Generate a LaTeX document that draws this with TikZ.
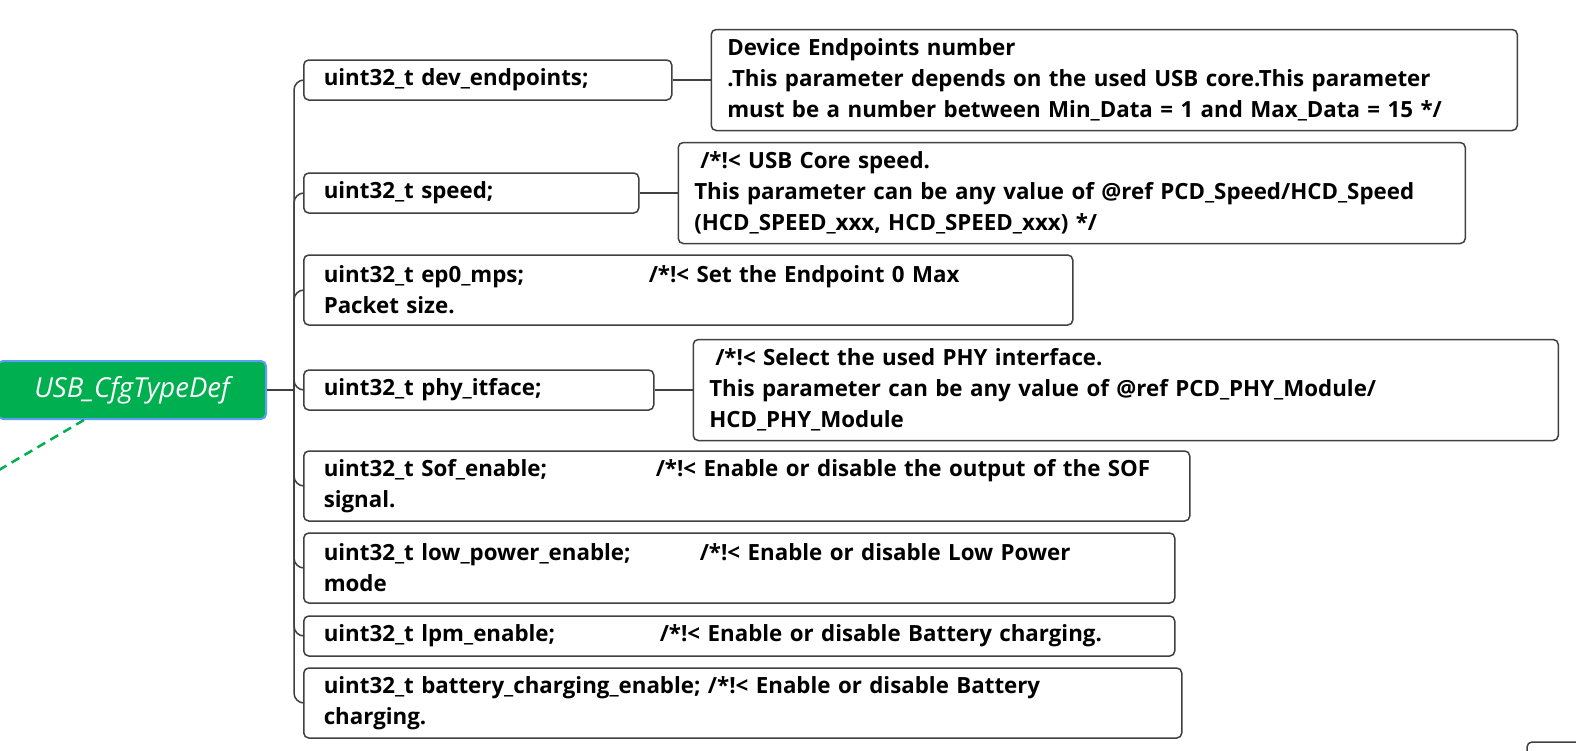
\documentclass[tikz,border=0pt]{standalone}
\usepackage{fontspec}
\setmainfont{Open Sans}
\usetikzlibrary{positioning}
\definecolor{mygray}{RGB}{64,64,64}
\definecolor{mygreen}{RGB}{0,176,80}
\definecolor{myblue}{RGB}{90,160,240}
\tikzset{
  rootbox/.style={rectangle, draw=myblue, fill=mygreen, text=white,
    rounded corners=5pt, line width=2pt, minimum width=268pt, minimum height=58pt,
    font=\fontsize{27.5}{32}\selectfont\itshape},
  field/.style={rectangle, draw=mygray, fill=white, rounded corners=5pt,
    line width=1.5pt, anchor=west, align=left, inner xsep=20pt, inner ysep=0pt,
    font=\fontsize{22.3}{31}\selectfont\bfseries},
  note/.style={field, inner xsep=16pt, minimum height=101pt},
  link/.style={draw=mygray, line width=1.5pt},
  dashlink/.style={draw=mygreen, line width=2.5pt, dash pattern=on 9pt off 6pt}
}
\newcommand{\fieldname}[2]{\makebox[#1][l]{#2}}

\begin{document}
\begin{tikzpicture}[x=1pt, y=-1pt]
  \useasboundingbox (0,0) rectangle (1576,750);
  \clip (0,0) rectangle (1576,750);

  % Root
  \node[rootbox] (root) at (132,390) {USB\_CfgTypeDef};
  \coordinate (spine) at (294,390);
  \coordinate (offleft) at (-30,487);
  \draw[dashlink] (root.212) -- (offleft);

  % Fields
  \node[field, text width=328pt, minimum height=40pt] (fEndpoints) at (303,80) {uint32\_t dev\_endpoints;};
  \node[field, text width=295pt, minimum height=40pt] (fSpeed) at (303,193) {uint32\_t speed;};
  \node[field, text width=729pt, minimum height=70pt] (fMps) at (303,290)
    {\fieldname{325pt}{uint32\_t ep0\_mps;}/*!< Set the Endpoint 0 Max\\Packet size.};
  \node[field, text width=310pt, minimum height=40pt] (fPhy) at (303,390) {uint32\_t phy\_itface;};
  \node[field, text width=846pt, minimum height=70pt] (fSof) at (303,486)
    {\fieldname{332pt}{uint32\_t Sof\_enable;}/*!< Enable or disable the output of the SOF\\signal.};
  \node[field, text width=831pt, minimum height=70pt] (fLowPower) at (303,568)
    {\fieldname{376pt}{uint32\_t low\_power\_enable;}/*!< Enable or disable Low Power\\mode};
  \node[field, text width=831pt, minimum height=40pt] (fLpm) at (303,636)
    {\fieldname{336pt}{uint32\_t lpm\_enable;}/*!< Enable or disable Battery charging.};
  \node[field, text width=838pt, minimum height=70pt] (fBattery) at (303,703)
    {uint32\_t battery\_charging\_enable; /*!< Enable or disable Battery\\charging.};

  % Notes
  \node[note, text width=774pt, right=38pt of fEndpoints] (nEndpoints)
    {Device Endpoints number\\.This parameter depends on the used USB core.This parameter\\must be a number between Min\_Data = 1 and Max\_Data = 15 */};
  \node[note, text width=755pt, right=38pt of fSpeed] (nSpeed)
    {\hspace*{6pt}/*!< USB Core speed.\\This parameter can be any value of @ref PCD\_Speed/HCD\_Speed\\(HCD\_SPEED\_xxx, HCD\_SPEED\_xxx) */};
  \node[note, text width=833pt, right=38pt of fPhy] (nPhy)
    {\hspace*{6pt}/*!< Select the used PHY interface.\\This parameter can be any value of @ref PCD\_PHY\_Module/\\HCD\_PHY\_Module};

  % Connectors
  \draw[link] (root.east) -- (spine);
  \foreach \f in {fEndpoints, fSpeed, fMps, fPhy, fSof, fLowPower, fLpm, fBattery}
    \draw[link, rounded corners=10pt] (spine) |- (\f.west);
  \draw[link] (fEndpoints.east) -- (nEndpoints.west);
  \draw[link] (fSpeed.east) -- (nSpeed.west);
  \draw[link] (fPhy.east) -- (nPhy.west);

  % Box cut off at the corner
  \draw[link, rounded corners=5pt] (1527,780) |- (1620,742);
\end{tikzpicture}
\end{document}
